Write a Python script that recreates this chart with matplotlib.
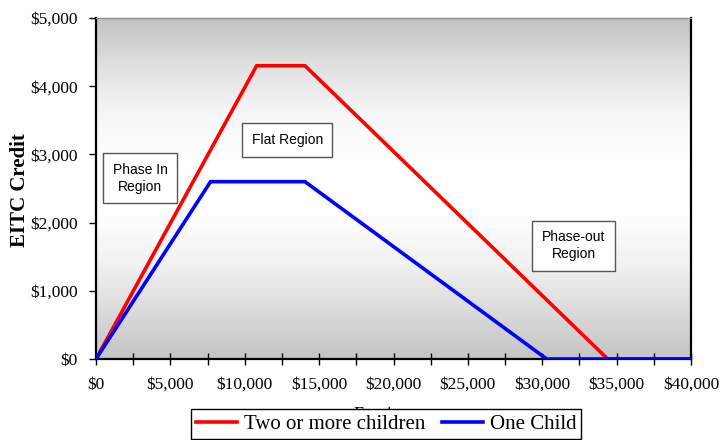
import numpy as np
import matplotlib
matplotlib.use("Agg")
import matplotlib.pyplot as plt

# Data (income, credit)
two_x = [0, 10800, 14050, 34400, 40000]
two_y = [0, 4300, 4300, 0, 0]
one_x = [0, 7700, 14050, 30300, 40000]
one_y = [0, 2600, 2600, 0, 0]
series_labels = ["Two or more children", "One Child"]
x_ticks = [0, 5000, 10000, 15000, 20000, 25000, 30000, 35000, 40000]
y_ticks = [0, 1000, 2000, 3000, 4000, 5000]
annotations = [("Phase In\nRegion", 2960, 2650), ("Flat Region", 12850, 3210), ("Phase-out\nRegion", 32100, 1660)]

fig = plt.figure(figsize=(7.24, 4.40), dpi=100)
ax = fig.add_axes([96/724, 1-359/440, (691-96)/724, (359-18)/440])

# gradient background
grad = np.array([0.76, 0.88, 0.97, 1.0, 1.0, 0.95, 0.86, 0.77])
pos = np.linspace(0, 1, len(grad))
vals = np.interp(np.linspace(0, 1, 256), pos, grad).reshape(-1, 1)
ax.imshow(np.dstack([vals, vals, vals]), extent=[0, 1, 0, 1], transform=ax.transAxes,
          aspect='auto', zorder=0, interpolation='bilinear')

ax.plot(two_x, two_y, color='#ff0000', lw=2.6, label=series_labels[0], zorder=3, solid_joinstyle='miter')
ax.plot(one_x, one_y, color='#0000ff', lw=2.6, label=series_labels[1], zorder=3, solid_joinstyle='miter')

ax.set_xlim(0, 40000)
ax.set_ylim(0, 5000)
ax.set_xticks(x_ticks)
ax.set_xticks(np.arange(0, 40001, 2500), minor=True)
ax.set_yticks(y_ticks)
ax.set_xticklabels([f"${v:,}" for v in x_ticks], family='Liberation Serif', fontsize=12.5)
ax.set_yticklabels([f"${v:,}" for v in y_ticks], family='Liberation Serif', fontsize=12.5)
ax.tick_params(axis='x', which='both', direction='inout', length=8, width=1, pad=9)
ax.tick_params(axis='y', direction='out', length=5, width=1, pad=8)

for s in ['left', 'bottom', 'right']:
    ax.spines[s].set_linewidth(1.6)
    ax.spines[s].set_color('black')
ax.spines['top'].set_color('#909090')
ax.spines['top'].set_linewidth(1.0)

ax.set_ylabel("EITC Credit", family='Liberation Serif', fontweight='bold', fontsize=15, va='center')
ax.yaxis.set_label_coords(-0.128, 0.496)
ax.set_xlabel("Earnings", family='Liberation Serif', fontsize=13)
ax.xaxis.set_label_coords(0.487, -0.14)

for txt, x, y in annotations:
    ax.text(x, y, txt, family='Liberation Sans', fontsize=10, ha='center', va='center', zorder=4,
            linespacing=1.25,
            bbox=dict(boxstyle='square,pad=0.7', fc='white', ec='#555555', lw=1))

leg = ax.legend(loc='upper center', bbox_to_anchor=(386/724, 1-409/440), bbox_transform=fig.transFigure,
                ncol=2, frameon=True, fancybox=False, framealpha=1.0,
                prop={'family': 'Liberation Serif', 'size': 15},
                handlelength=2.0, handletextpad=0.3, columnspacing=0.8, borderpad=0.25, borderaxespad=0)
leg.get_frame().set_edgecolor('black')
leg.get_frame().set_linewidth(1.0)
leg.set_zorder(10)

fig.savefig("out.png", dpi=100)
